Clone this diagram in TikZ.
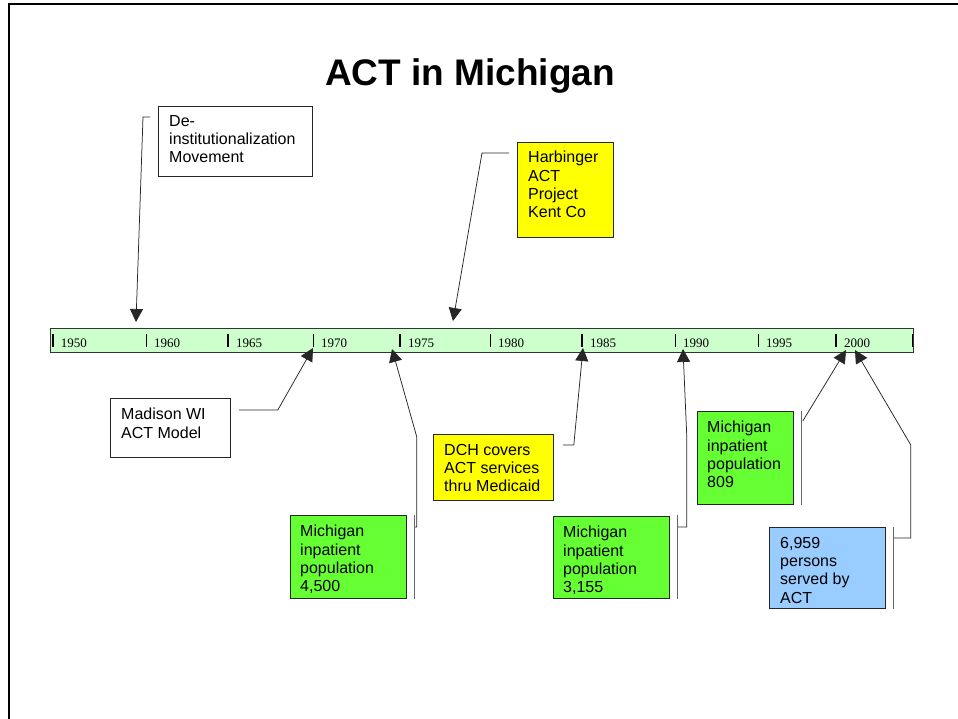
\documentclass[tikz,border=0pt]{standalone}
\usepackage{fontspec}
\setmainfont{Liberation Sans}
\newfontfamily\yearfont{Liberation Serif}
\usetikzlibrary{arrows.meta,calc}
\definecolor{barfill}{HTML}{CCFFCC}
\definecolor{evgreen}{HTML}{66FF33}
\definecolor{evyellow}{HTML}{FFFF00}
\definecolor{evblue}{HTML}{99CCFF}
\begin{document}
\begin{tikzpicture}[x=1pt,y=-1pt,
  evbox/.style={draw=black!85, line width=0.8pt, anchor=north west, inner sep=0pt},
  evtext/.style={anchor=north west, inner sep=0pt, align=left, font=\fontsize{16}{18.3}\selectfont},
  yearlbl/.style={anchor=base west, inner sep=0pt, font=\yearfont\fontsize{13}{14}\selectfont},
  tickmark/.style={draw=black, line width=1pt},
  thicktick/.style={draw=black, line width=1.8pt},
  pointer/.style={draw=black!85, line width=0.75pt, -{Triangle[length=13pt,width=13pt]}},
  accent/.style={draw=black!60, line width=1.2pt}]
\useasboundingbox (0,0) rectangle (958,719);
% frame
\draw[line width=2pt] (9,719) -- (9,4) -- (958,4);
% title
\node[anchor=base, inner sep=0pt, font=\bfseries\fontsize{37}{40}\selectfont] (title) at (470,86) {ACT in Michigan};
% timeline bar
\node[draw=black!80, line width=0.9pt, fill=barfill, anchor=north west, minimum width=863pt, minimum height=24pt, inner sep=0pt] (bar) at (50,328) {};
\foreach \xx/\yr/\st in {52.7/1950/thicktick,146/1960/tickmark,228/1965/thicktick,313/1970/tickmark,400/1975/thicktick,490/1980/tickmark,582/1985/thicktick,675/1990/tickmark,758/1995/tickmark,836/2000/thicktick}{
  \draw[\st] (\xx,334) -- (\xx,347);
  \node[yearlbl] (y\yr) at (\xx+8,347) {\yr};
}
\draw[tickmark] (912,334) -- (912,347);
% event boxes
\node[evbox, fill=white, minimum width=154pt, minimum height=70pt] (de) at (158,106) {};
\node[evtext] (deT) at ($(de.north west)+(11,9)$) {De-\\institutionalization\\Movement};
\node[evbox, fill=evyellow, minimum width=96pt, minimum height=95pt] (harb) at (517,142) {};
\node[evtext] (harbT) at ($(harb.north west)+(11,9)$) {Harbinger\\ACT\\Project\\Kent Co};
\node[evbox, fill=white, minimum width=120pt, minimum height=59pt] (mad) at (110,398) {};
\node[evtext] (madT) at ($(mad.north west)+(11,10)$) {Madison WI\\ACT Model};
\node[evbox, fill=evgreen, minimum width=116pt, minimum height=83pt] (p4500) at (290,515) {};
\node[evtext] (p4500T) at ($(p4500.north west)+(10,10)$) {Michigan\\inpatient\\population\\4,500};
\node[evbox, fill=evyellow, minimum width=120pt, minimum height=66pt] (dch) at (433,434) {};
\node[evtext] (dchT) at ($(dch.north west)+(11,10)$) {DCH covers\\ACT services\\thru Medicaid};
\node[evbox, fill=evgreen, minimum width=116pt, minimum height=82pt] (p3155) at (553,516) {};
\node[evtext] (p3155T) at ($(p3155.north west)+(10,10)$) {Michigan\\inpatient\\population\\3,155};
\node[evbox, fill=evgreen, minimum width=96pt, minimum height=93pt] (p809) at (697,411) {};
\node[evtext] (p809T) at ($(p809.north west)+(10,10)$) {Michigan\\inpatient\\population\\809};
\node[evbox, fill=evblue, minimum width=116pt, minimum height=81pt] (act) at (769,527) {};
\node[evtext] (actT) at ($(act.north west)+(11,10)$) {6,959\\persons\\served by\\ACT};
% pointer targets on the bar
\coordinate (tDe) at (136,322);
\coordinate (tHarb) at (453,321);
\coordinate (tMad) at (313,348);
\coordinate (t4500) at (392,349);
\coordinate (tDch) at (583,348);
\coordinate (t3155) at (683,349);
\coordinate (t809) at (846,350);
\coordinate (tAct) at (855,350);
% callouts
\draw[pointer] ($(de.north west)+(-8,11)$) -- ++(-7,0) -- (tDe);
\draw[pointer] ($(harb.north west)+(-8,11)$) -- ++(-27,0) -- (tHarb);
\draw[pointer] ($(mad.north east)+(8,12)$) -- ++(39,0) -- (tMad);
\draw[accent] ($(p4500.north east)+(8,0)$) -- ($(p4500.south east)+(8,0)$);
\draw[pointer] ($(p4500.north east)+(8,12)$) -- ++(2,0) -- ++(0,-90) -- (t4500);
\draw[pointer] ($(dch.north east)+(9,11)$) -- ++(11,0) -- (tDch);
\draw[accent] ($(p3155.north east)+(8,-1)$) -- ($(p3155.south east)+(8,0)$);
\draw[pointer] ($(p3155.north east)+(8,11)$) -- ++(9,0) -- ++(0,-90) -- (t3155);
\draw[accent] ($(p809.north east)+(8,0)$) -- ($(p809.south east)+(8,0)$);
\draw[pointer] ($(p809.north east)+(9,10)$) -- (t809);
\draw[accent] ($(act.north east)+(8,0)$) -- ($(act.south east)+(8,0)$);
\draw[pointer] ($(act.north east)+(8,11)$) -- ++(17,0) -- ++(0,-93) -- (tAct);
\end{tikzpicture}
\end{document}
